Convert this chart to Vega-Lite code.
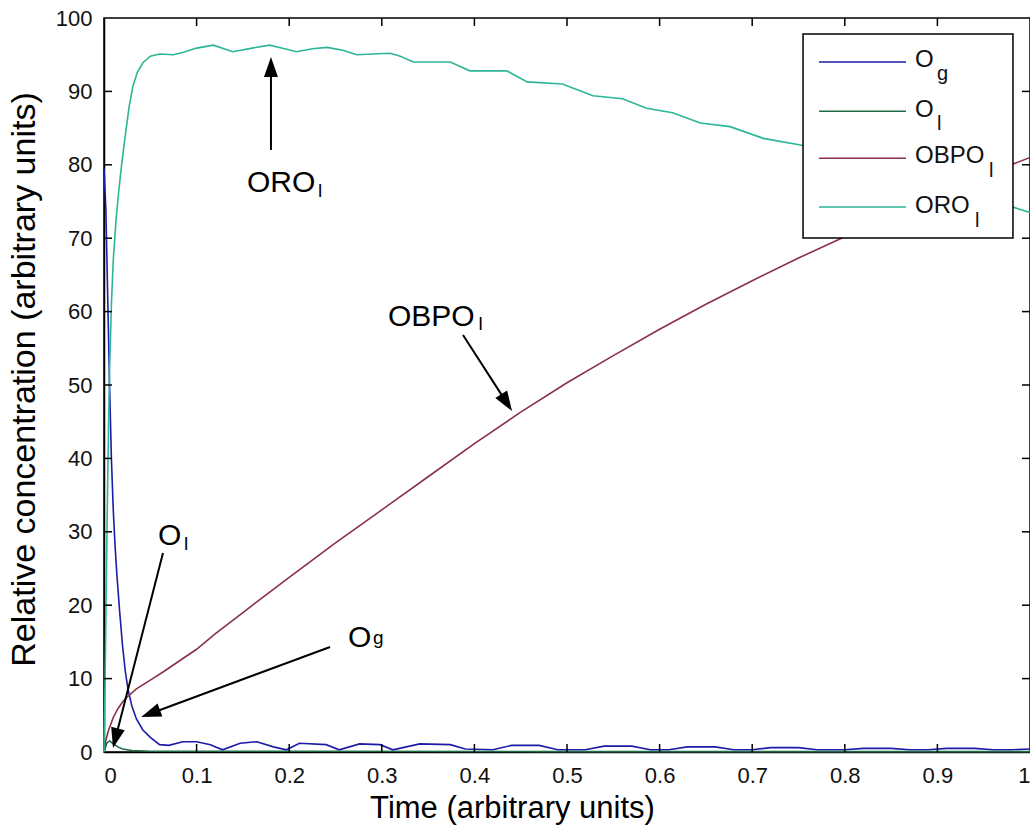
{
  "$schema": "https://vega.github.io/schema/vega-lite/v6.json",
  "width": 926,
  "height": 734,
  "autosize": {"type": "none"},
  "padding": {"left": 104, "top": 18, "right": 0, "bottom": 86},
  "background": "white",
  "config": {
    "view": {"stroke": "#000", "strokeWidth": 1.5},
    "font": "Liberation Sans",
    "axis": {
      "grid": false,
      "domainColor": "#000",
      "domainWidth": 1.5,
      "labelFont": "Liberation Sans",
      "labelFontSize": 22,
      "labelColor": "#111",
      "titleFont": "Liberation Sans",
      "titleFontWeight": "normal",
      "titleColor": "#000"
    }
  },
  "datasets": {
    "curves": [
      {"s": "Og", "t": 0, "v": 79.5}, {"s": "Og", "t": 0.002, "v": 74}, {"s": "Og", "t": 0.004, "v": 62}, {"s": "Og", "t": 0.006, "v": 50},
      {"s": "Og", "t": 0.008, "v": 40}, {"s": "Og", "t": 0.01, "v": 33}, {"s": "Og", "t": 0.012, "v": 28}, {"s": "Og", "t": 0.014, "v": 24},
      {"s": "Og", "t": 0.017, "v": 19}, {"s": "Og", "t": 0.02, "v": 14.5}, {"s": "Og", "t": 0.023, "v": 11}, {"s": "Og", "t": 0.026, "v": 8.5},
      {"s": "Og", "t": 0.03, "v": 6.3}, {"s": "Og", "t": 0.035, "v": 4.5}, {"s": "Og", "t": 0.042, "v": 3}, {"s": "Og", "t": 0.05, "v": 2},
      {"s": "Og", "t": 0.06, "v": 1.0}, {"s": "Og", "t": 0.07, "v": 0.9}, {"s": "Og", "t": 0.085, "v": 1.4}, {"s": "Og", "t": 0.1, "v": 1.4},
      {"s": "Og", "t": 0.115, "v": 1.0}, {"s": "Og", "t": 0.128, "v": 0.3}, {"s": "Og", "t": 0.147, "v": 1.2}, {"s": "Og", "t": 0.165, "v": 1.4},
      {"s": "Og", "t": 0.183, "v": 0.7}, {"s": "Og", "t": 0.197, "v": 0.3}, {"s": "Og", "t": 0.211, "v": 1.2}, {"s": "Og", "t": 0.24, "v": 1.0},
      {"s": "Og", "t": 0.254, "v": 0.3}, {"s": "Og", "t": 0.276, "v": 1.1}, {"s": "Og", "t": 0.298, "v": 1.0}, {"s": "Og", "t": 0.312, "v": 0.3},
      {"s": "Og", "t": 0.341, "v": 1.1}, {"s": "Og", "t": 0.374, "v": 1.0}, {"s": "Og", "t": 0.39, "v": 0.4}, {"s": "Og", "t": 0.42, "v": 0.3},
      {"s": "Og", "t": 0.44, "v": 0.9}, {"s": "Og", "t": 0.47, "v": 0.9}, {"s": "Og", "t": 0.49, "v": 0.3}, {"s": "Og", "t": 0.52, "v": 0.3},
      {"s": "Og", "t": 0.54, "v": 0.8}, {"s": "Og", "t": 0.57, "v": 0.8}, {"s": "Og", "t": 0.59, "v": 0.3}, {"s": "Og", "t": 0.61, "v": 0.3},
      {"s": "Og", "t": 0.63, "v": 0.7}, {"s": "Og", "t": 0.66, "v": 0.7}, {"s": "Og", "t": 0.68, "v": 0.3}, {"s": "Og", "t": 0.7, "v": 0.3},
      {"s": "Og", "t": 0.72, "v": 0.6}, {"s": "Og", "t": 0.75, "v": 0.6}, {"s": "Og", "t": 0.77, "v": 0.3}, {"s": "Og", "t": 0.8, "v": 0.3},
      {"s": "Og", "t": 0.82, "v": 0.5}, {"s": "Og", "t": 0.85, "v": 0.5}, {"s": "Og", "t": 0.87, "v": 0.3}, {"s": "Og", "t": 0.89, "v": 0.3},
      {"s": "Og", "t": 0.91, "v": 0.5}, {"s": "Og", "t": 0.94, "v": 0.5}, {"s": "Og", "t": 0.96, "v": 0.3}, {"s": "Og", "t": 0.98, "v": 0.3},
      {"s": "Og", "t": 1.0, "v": 0.4},
      {"s": "Ol", "t": 0, "v": 0}, {"s": "Ol", "t": 0.003, "v": 1.2}, {"s": "Ol", "t": 0.006, "v": 1.5}, {"s": "Ol", "t": 0.01, "v": 1.1},
      {"s": "Ol", "t": 0.015, "v": 0.7}, {"s": "Ol", "t": 0.02, "v": 0.4}, {"s": "Ol", "t": 0.03, "v": 0.2}, {"s": "Ol", "t": 0.05, "v": 0.1},
      {"s": "Ol", "t": 0.2, "v": 0.1}, {"s": "Ol", "t": 0.5, "v": 0.05}, {"s": "Ol", "t": 1.0, "v": 0.05},
      {"s": "OBPOl", "t": 0, "v": 0}, {"s": "OBPOl", "t": 0.002, "v": 1.6}, {"s": "OBPOl", "t": 0.005, "v": 3}, {"s": "OBPOl", "t": 0.01, "v": 4.7},
      {"s": "OBPOl", "t": 0.015, "v": 5.9}, {"s": "OBPOl", "t": 0.02, "v": 6.8}, {"s": "OBPOl", "t": 0.025, "v": 7.5}, {"s": "OBPOl", "t": 0.035, "v": 8.6},
      {"s": "OBPOl", "t": 0.05, "v": 9.8}, {"s": "OBPOl", "t": 0.065, "v": 11}, {"s": "OBPOl", "t": 0.08, "v": 12.3}, {"s": "OBPOl", "t": 0.1, "v": 14},
      {"s": "OBPOl", "t": 0.12, "v": 16.1}, {"s": "OBPOl", "t": 0.15, "v": 19}, {"s": "OBPOl", "t": 0.2, "v": 23.8}, {"s": "OBPOl", "t": 0.25, "v": 28.5},
      {"s": "OBPOl", "t": 0.3, "v": 33}, {"s": "OBPOl", "t": 0.35, "v": 37.5}, {"s": "OBPOl", "t": 0.4, "v": 42}, {"s": "OBPOl", "t": 0.45, "v": 46.3},
      {"s": "OBPOl", "t": 0.5, "v": 50.3}, {"s": "OBPOl", "t": 0.55, "v": 54}, {"s": "OBPOl", "t": 0.6, "v": 57.6}, {"s": "OBPOl", "t": 0.65, "v": 61},
      {"s": "OBPOl", "t": 0.7, "v": 64.2}, {"s": "OBPOl", "t": 0.75, "v": 67.3}, {"s": "OBPOl", "t": 0.8, "v": 70.2}, {"s": "OBPOl", "t": 0.85, "v": 73},
      {"s": "OBPOl", "t": 0.9, "v": 75.8}, {"s": "OBPOl", "t": 0.95, "v": 78.5}, {"s": "OBPOl", "t": 1.0, "v": 81},
      {"s": "OROl", "t": 0, "v": 0}, {"s": "OROl", "t": 0.001, "v": 8}, {"s": "OROl", "t": 0.002, "v": 18}, {"s": "OROl", "t": 0.003, "v": 28},
      {"s": "OROl", "t": 0.004, "v": 37}, {"s": "OROl", "t": 0.005, "v": 45}, {"s": "OROl", "t": 0.006, "v": 52}, {"s": "OROl", "t": 0.008, "v": 61},
      {"s": "OROl", "t": 0.01, "v": 67}, {"s": "OROl", "t": 0.013, "v": 72.5}, {"s": "OROl", "t": 0.016, "v": 76.5}, {"s": "OROl", "t": 0.019, "v": 80},
      {"s": "OROl", "t": 0.023, "v": 84}, {"s": "OROl", "t": 0.027, "v": 87.8}, {"s": "OROl", "t": 0.031, "v": 90.6}, {"s": "OROl", "t": 0.036, "v": 92.6},
      {"s": "OROl", "t": 0.042, "v": 93.9}, {"s": "OROl", "t": 0.05, "v": 94.8}, {"s": "OROl", "t": 0.06, "v": 95.1}, {"s": "OROl", "t": 0.075, "v": 95.0},
      {"s": "OROl", "t": 0.085, "v": 95.3}, {"s": "OROl", "t": 0.1, "v": 95.9}, {"s": "OROl", "t": 0.118, "v": 96.3}, {"s": "OROl", "t": 0.139, "v": 95.4},
      {"s": "OROl", "t": 0.16, "v": 95.9}, {"s": "OROl", "t": 0.179, "v": 96.3}, {"s": "OROl", "t": 0.195, "v": 95.8}, {"s": "OROl", "t": 0.208, "v": 95.4},
      {"s": "OROl", "t": 0.225, "v": 95.8}, {"s": "OROl", "t": 0.241, "v": 96.0}, {"s": "OROl", "t": 0.258, "v": 95.6}, {"s": "OROl", "t": 0.273, "v": 95.0},
      {"s": "OROl", "t": 0.29, "v": 95.1}, {"s": "OROl", "t": 0.309, "v": 95.2}, {"s": "OROl", "t": 0.32, "v": 94.8}, {"s": "OROl", "t": 0.334, "v": 94.0},
      {"s": "OROl", "t": 0.374, "v": 94.0}, {"s": "OROl", "t": 0.395, "v": 92.8}, {"s": "OROl", "t": 0.435, "v": 92.8}, {"s": "OROl", "t": 0.457, "v": 91.3},
      {"s": "OROl", "t": 0.495, "v": 91.0}, {"s": "OROl", "t": 0.528, "v": 89.4}, {"s": "OROl", "t": 0.56, "v": 89.0}, {"s": "OROl", "t": 0.586, "v": 87.7},
      {"s": "OROl", "t": 0.614, "v": 87.1}, {"s": "OROl", "t": 0.644, "v": 85.7}, {"s": "OROl", "t": 0.676, "v": 85.2}, {"s": "OROl", "t": 0.712, "v": 83.6},
      {"s": "OROl", "t": 0.752, "v": 82.7}, {"s": "OROl", "t": 0.8, "v": 81.3}, {"s": "OROl", "t": 0.85, "v": 79.6}, {"s": "OROl", "t": 0.9, "v": 77.6},
      {"s": "OROl", "t": 0.95, "v": 75.4}, {"s": "OROl", "t": 0.98, "v": 74.3}, {"s": "OROl", "t": 1.0, "v": 73.5}
    ],
    "xticks": [{"v": 0.1}, {"v": 0.2}, {"v": 0.3}, {"v": 0.4}, {"v": 0.5}, {"v": 0.6}, {"v": 0.7}, {"v": 0.8}, {"v": 0.9}],
    "yticks": [{"v": 10}, {"v": 20}, {"v": 30}, {"v": 40}, {"v": 50}, {"v": 60}, {"v": 70}, {"v": 80}, {"v": 90}],
    "legendBox": [{"x": 0.7549, "x2": 0.9816, "y": 97.82, "y2": 70.03}],
    "legendLines": [
      {"s": "Og", "x": 0.7721, "x2": 0.8661, "y": 94.0},
      {"s": "Ol", "x": 0.7721, "x2": 0.8661, "y": 87.3},
      {"s": "OBPOl", "x": 0.7721, "x2": 0.8661, "y": 80.9},
      {"s": "OROl", "x": 0.7721, "x2": 0.8661, "y": 74.25}
    ],
    "legendText": [
      {"x": 0.8758, "y": 93.3, "t": "O"},
      {"x": 0.8758, "y": 86.5, "t": "O"},
      {"x": 0.8758, "y": 80.2, "t": "OBPO"},
      {"x": 0.8758, "y": 73.4, "t": "ORO"}
    ],
    "legendSub": [
      {"x": 0.8996, "y": 91.6, "t": "g"},
      {"x": 0.8996, "y": 84.7, "t": "l"},
      {"x": 0.9557, "y": 78.3, "t": "l"},
      {"x": 0.9406, "y": 71.5, "t": "l"}
    ],
    "arrows": [
      {"x": 0.1803, "y": 82.02, "hx": 0.1803, "hy": 93.32, "a": 0},
      {"x": 0.3877, "y": 56.81, "hx": 0.4348, "hy": 47.6, "a": 147.2},
      {"x": 0.0637, "y": 27.11, "hx": 0.0124, "hy": 1.87, "a": 194.4},
      {"x": 0.2441, "y": 14.31, "hx": 0.0503, "hy": 5.25, "a": 249.8}
    ],
    "annText": [
      {"x": 0.1544, "y": 76.3, "t": "ORO"},
      {"x": 0.3067, "y": 58.0, "t": "OBPO"},
      {"x": 0.0583, "y": 28.2, "t": "O"},
      {"x": 0.2635, "y": 14.3, "t": "O"}
    ],
    "annSub": [
      {"x": 0.2311, "y": 75.6, "t": "l"},
      {"x": 0.4045, "y": 57.5, "t": "l"},
      {"x": 0.0864, "y": 27.5, "t": "l"},
      {"x": 0.2905, "y": 14.7, "t": "g"}
    ]
  },
  "layer": [
    {
      "data": {"name": "curves"},
      "mark": {"type": "line", "strokeWidth": 1.6},
      "encoding": {
        "x": {
          "field": "t", "type": "quantitative",
          "scale": {"domain": [0, 1], "nice": false},
          "axis": {
            "orient": "bottom",
            "values": [0, 0.1, 0.2, 0.3, 0.4, 0.5, 0.6, 0.7, 0.8, 0.9, 1],
            "format": "~g",
            "ticks": false,
            "labelPadding": 13,
            "title": "Time (arbitrary units)",
            "titleFontSize": 31,
            "titlePadding": 7,
            "titleX": 408
          }
        },
        "y": {
          "field": "v", "type": "quantitative",
          "scale": {"domain": [0, 100], "nice": false},
          "axis": {
            "orient": "left",
            "values": [0, 10, 20, 30, 40, 50, 60, 70, 80, 90, 100],
            "ticks": false,
            "labelPadding": 12,
            "title": "Relative concentration (arbitrary units)",
            "titleFontSize": 34,
            "titlePadding": 14,
            "titleY": 361
          }
        },
        "color": {
          "field": "s", "type": "nominal",
          "scale": {"domain": ["Og", "Ol", "OBPOl", "OROl"], "range": ["#1c1ca8", "#1e6b46", "#8a3048", "#2cb596"]},
          "legend": null
        }
      }
    },
    {
      "data": {"name": "xticks"},
      "mark": {"type": "tick", "orient": "vertical", "size": 8, "thickness": 1.5, "yOffset": -4, "color": "#000", "opacity": 1},
      "encoding": {
        "x": {"field": "v", "type": "quantitative", "scale": {"domain": [0, 1], "nice": false}, "axis": null},
        "y": {"datum": 0, "type": "quantitative", "scale": {"domain": [0, 100], "nice": false}, "axis": null}
      }
    },
    {
      "data": {"name": "xticks"},
      "mark": {"type": "tick", "orient": "vertical", "size": 8, "thickness": 1.5, "yOffset": 4, "color": "#000", "opacity": 1},
      "encoding": {
        "x": {"field": "v", "type": "quantitative", "scale": {"domain": [0, 1], "nice": false}, "axis": null},
        "y": {"datum": 100, "type": "quantitative", "scale": {"domain": [0, 100], "nice": false}, "axis": null}
      }
    },
    {
      "data": {"name": "yticks"},
      "mark": {"type": "tick", "orient": "horizontal", "size": 8, "thickness": 1.5, "xOffset": 4, "color": "#000", "opacity": 1},
      "encoding": {
        "x": {"datum": 0, "type": "quantitative", "scale": {"domain": [0, 1], "nice": false}, "axis": null},
        "y": {"field": "v", "type": "quantitative", "scale": {"domain": [0, 100], "nice": false}, "axis": null}
      }
    },
    {
      "data": {"name": "yticks"},
      "mark": {"type": "tick", "orient": "horizontal", "size": 8, "thickness": 1.5, "xOffset": -4, "color": "#000", "opacity": 1},
      "encoding": {
        "x": {"datum": 1, "type": "quantitative", "scale": {"domain": [0, 1], "nice": false}, "axis": null},
        "y": {"field": "v", "type": "quantitative", "scale": {"domain": [0, 100], "nice": false}, "axis": null}
      }
    },
    {
      "data": {"name": "legendBox"},
      "mark": {"type": "rect", "fill": "white", "stroke": "#000", "strokeWidth": 1.5},
      "encoding": {
        "x": {"field": "x", "type": "quantitative", "scale": {"domain": [0, 1], "nice": false}, "axis": null},
        "x2": {"field": "x2"},
        "y": {"field": "y", "type": "quantitative", "scale": {"domain": [0, 100], "nice": false}, "axis": null},
        "y2": {"field": "y2"}
      }
    },
    {
      "data": {"name": "legendLines"},
      "mark": {"type": "rule", "strokeWidth": 1.6},
      "encoding": {
        "x": {"field": "x", "type": "quantitative", "scale": {"domain": [0, 1], "nice": false}, "axis": null},
        "x2": {"field": "x2"},
        "y": {"field": "y", "type": "quantitative", "scale": {"domain": [0, 100], "nice": false}, "axis": null},
        "color": {"field": "s", "type": "nominal", "legend": null}
      }
    },
    {
      "data": {"name": "legendText"},
      "mark": {"type": "text", "align": "left", "baseline": "alphabetic", "fontSize": 24, "font": "Liberation Sans", "color": "#111"},
      "encoding": {
        "x": {"field": "x", "type": "quantitative", "scale": {"domain": [0, 1], "nice": false}, "axis": null},
        "y": {"field": "y", "type": "quantitative", "scale": {"domain": [0, 100], "nice": false}, "axis": null},
        "text": {"field": "t"}
      }
    },
    {
      "data": {"name": "legendSub"},
      "mark": {"type": "text", "align": "left", "baseline": "alphabetic", "fontSize": 20, "font": "Liberation Sans", "color": "#111"},
      "encoding": {
        "x": {"field": "x", "type": "quantitative", "scale": {"domain": [0, 1], "nice": false}, "axis": null},
        "y": {"field": "y", "type": "quantitative", "scale": {"domain": [0, 100], "nice": false}, "axis": null},
        "text": {"field": "t"}
      }
    },
    {
      "data": {"name": "arrows"},
      "mark": {"type": "rule", "strokeWidth": 2, "color": "#000"},
      "encoding": {
        "x": {"field": "x", "type": "quantitative", "scale": {"domain": [0, 1], "nice": false}, "axis": null},
        "y": {"field": "y", "type": "quantitative", "scale": {"domain": [0, 100], "nice": false}, "axis": null},
        "x2": {"field": "hx"},
        "y2": {"field": "hy"}
      }
    },
    {
      "data": {"name": "arrows"},
      "mark": {"type": "point", "shape": "M0,-1L0.7,1L-0.7,1Z", "filled": true, "color": "#000", "opacity": 1, "size": 400, "strokeWidth": 0},
      "encoding": {
        "x": {"field": "hx", "type": "quantitative", "scale": {"domain": [0, 1], "nice": false}, "axis": null},
        "y": {"field": "hy", "type": "quantitative", "scale": {"domain": [0, 100], "nice": false}, "axis": null},
        "angle": {"field": "a", "type": "quantitative", "scale": null}
      }
    },
    {
      "data": {"name": "annText"},
      "mark": {"type": "text", "align": "left", "baseline": "alphabetic", "fontSize": 30, "font": "Liberation Sans", "color": "#000"},
      "encoding": {
        "x": {"field": "x", "type": "quantitative", "scale": {"domain": [0, 1], "nice": false}, "axis": null},
        "y": {"field": "y", "type": "quantitative", "scale": {"domain": [0, 100], "nice": false}, "axis": null},
        "text": {"field": "t"}
      }
    },
    {
      "data": {"name": "annSub"},
      "mark": {"type": "text", "align": "left", "baseline": "alphabetic", "fontSize": 19, "font": "Liberation Sans", "color": "#000"},
      "encoding": {
        "x": {"field": "x", "type": "quantitative", "scale": {"domain": [0, 1], "nice": false}, "axis": null},
        "y": {"field": "y", "type": "quantitative", "scale": {"domain": [0, 100], "nice": false}, "axis": null},
        "text": {"field": "t"}
      }
    }
  ],
  "resolve": {
    "scale": {"x": "independent", "y": "independent"},
    "axis": {"x": "independent", "y": "independent"}
  }
}
